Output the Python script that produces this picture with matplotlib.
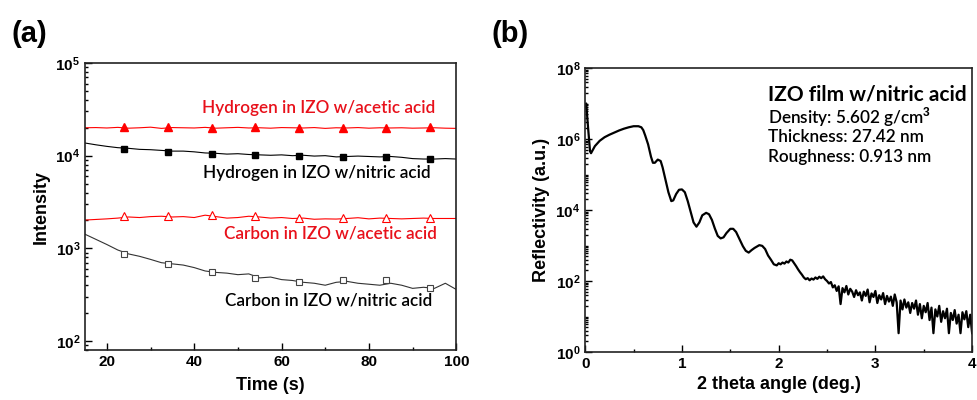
import numpy as np
import matplotlib.pyplot as plt
from matplotlib.ticker import MultipleLocator, LogLocator, NullFormatter, FixedLocator

plt.rcParams["font.family"] = ["Liberation Sans", "DejaVu Sans"]
plt.rcParams["mathtext.fontset"] = "custom"
plt.rcParams["mathtext.rm"] = "Liberation Sans:bold"
plt.rcParams["mathtext.bf"] = "Liberation Sans:bold"

# (a) depth profile data
time = [15, 17.5, 20, 22.5, 25, 27.5, 30, 32.5, 35, 37.5, 40, 42.5, 45, 47.5, 50,
        52.5, 55, 57.5, 60, 62.5, 65, 67.5, 70, 72.5, 75, 77.5, 80, 82.5, 85,
        87.5, 90, 92.5, 95, 97.5, 100]
h_acetic = [2.00, 2.01, 1.99, 2.02, 1.98, 2.00, 2.03, 1.97, 2.01, 2.00, 1.99, 2.02,
            1.98, 2.00, 2.02, 1.99, 2.00, 1.98, 2.01, 2.00, 1.99, 2.01, 1.97, 2.00,
            1.99, 2.01, 1.98, 2.00, 1.99, 2.00, 1.98, 1.99, 2.00, 1.98, 1.97]
h_nitric = [1.37, 1.31, 1.26, 1.22, 1.20, 1.17, 1.16, 1.14, 1.12, 1.12, 1.10, 1.07,
            1.06, 1.04, 1.05, 1.03, 1.02, 1.01, 1.02, 1.00, 1.01, 0.99, 1.00, 0.97,
            0.98, 0.99, 0.98, 0.97, 0.98, 0.96, 0.93, 0.92, 0.92, 0.93, 0.92]
c_acetic = [2.02, 2.05, 2.08, 2.12, 2.18, 2.15, 2.20, 2.22, 2.18, 2.20, 2.15, 2.28,
            2.20, 2.12, 2.15, 2.22, 2.18, 2.12, 2.15, 2.10, 2.12, 2.06, 2.08, 2.07,
            2.10, 2.14, 2.08, 2.12, 2.10, 2.08, 2.10, 2.12, 2.10, 2.10, 2.10]
c_nitric = [1420, 1250, 1100, 960, 870, 820, 760, 700, 680, 660, 620, 570, 550, 540,
            520, 530, 480, 490, 460, 450, 430, 420, 400, 430, 440, 420, 410, 400,
            420, 400, 370, 380, 370, 420, 360]

mark_time = [24, 34, 44, 54, 64, 74, 84, 94]
mark_h_acetic = [2.02, 2.02, 1.97, 2.02, 1.98, 1.97, 1.98, 2.02]
mark_h_nitric = [1.18, 1.10, 1.05, 1.01, 1.00, 0.97, 0.97, 0.91]
mark_c_acetic = [2.25, 2.22, 2.28, 2.22, 2.12, 2.10, 2.15, 2.10]
mark_c_nitric = [870, 680, 550, 480, 430, 450, 456, 374]

# (b) XRR data, log10 of reflectivity
angle_low = [0.00, 0.01, 0.03, 0.05, 0.06, 0.08, 0.10, 0.15, 0.20, 0.25, 0.30, 0.35,
             0.40, 0.45, 0.50, 0.55, 0.58, 0.60, 0.62, 0.65, 0.68, 0.70, 0.72, 0.75,
             0.78, 0.80, 0.83, 0.86, 0.89, 0.91, 0.94, 0.97, 1.00, 1.03, 1.06, 1.09,
             1.12, 1.15, 1.18, 1.21, 1.25, 1.28, 1.31, 1.34, 1.37, 1.40, 1.43, 1.46,
             1.50, 1.53, 1.56, 1.60, 1.63, 1.66, 1.69, 1.72, 1.75, 1.80, 1.83, 1.86,
             1.89, 1.92, 1.95, 1.98]
logr_low = [6.90, 7.00, 6.30, 5.65, 5.60, 5.70, 5.80, 5.95, 6.05, 6.12, 6.18, 6.24,
            6.29, 6.33, 6.36, 6.36, 6.33, 6.25, 6.10, 5.85, 5.50, 5.33, 5.33, 5.42,
            5.38, 5.20, 4.85, 4.50, 4.25, 4.27, 4.45, 4.57, 4.58, 4.50, 4.25, 3.95,
            3.65, 3.53, 3.65, 3.85, 3.92, 3.88, 3.72, 3.48, 3.27, 3.20, 3.23, 3.35,
            3.47, 3.47, 3.38, 3.15, 2.98, 2.85, 2.80, 2.87, 2.93, 3.01, 2.99, 2.90,
            2.72, 2.60, 2.47, 2.44]
logr_tail = [2.50, 2.47, 2.52, 2.49, 2.55, 2.52, 2.60, 2.58, 2.50, 2.42, 2.33, 2.25,
             2.18, 2.10, 2.05, 2.08, 2.02, 2.07, 2.04, 2.10, 2.06, 2.12, 2.08, 2.13,
             2.05, 2.00, 1.93, 1.97, 1.82, 1.88, 1.72, 1.85, 1.35, 1.80, 1.68, 1.86,
             1.62, 1.78, 1.70, 1.55, 1.74, 1.60, 1.68, 1.45, 1.70, 1.58, 1.76, 1.40,
             1.65, 1.55, 1.72, 1.38, 1.60, 1.48, 1.66, 1.35, 1.58, 1.42, 1.56, 1.30,
             1.62, 1.40, 0.53, 1.45, 1.20, 1.48, 1.25, 1.40, 1.10, 1.38, 1.22, 1.45,
             1.05, 1.35, 0.95, 1.30, 1.12, 1.38, 0.90, 1.25, 0.53, 1.20, 1.00, 1.30,
             0.85, 1.15, 0.95, 1.22, 0.53, 1.10, 0.90, 1.18, 0.80, 1.05, 0.53, 1.12,
             0.92, 1.15, 0.70, 1.05, 0.53]
angle_tail = np.round(np.arange(2.0, 4.001, 0.02), 2)

angle = np.concatenate([angle_low, angle_tail])
refl = 10 ** np.concatenate([logr_low, logr_tail])

fig = plt.figure(figsize=(9.77, 4.0), dpi=100)
ax1 = fig.add_axes([0.087, 0.125, 0.380, 0.7175])
ax2 = fig.add_axes([0.599, 0.12, 0.396, 0.71])

t = np.array(time)
ax1.plot(t, np.array(h_acetic) * 1e4, color="red", lw=0.8)
ax1.plot(t, np.array(h_nitric) * 1e4, color="black", lw=0.8)
ax1.plot(t, np.array(c_acetic) * 1e3, color="red", lw=0.8)
ax1.plot(t, c_nitric, color="#333333", lw=0.8)
ax1.plot(mark_time, np.array(mark_h_acetic) * 1e4, "^", color="red", ms=5.5, ls="none")
ax1.plot(mark_time, np.array(mark_h_nitric) * 1e4, "s", color="black", ms=4.5, ls="none")
ax1.plot(mark_time, np.array(mark_c_acetic) * 1e3, "^", mfc="white", mec="red",
         ms=5.5, mew=0.8, ls="none")
ax1.plot(mark_time, mark_c_nitric, "s", mfc="white", mec="#444444", ms=4.5, mew=0.8,
         ls="none")

ax1.set_yscale("log")
ax1.set_xlim(15, 100)
ax1.set_ylim(80, 1e5)
ax1.xaxis.set_major_locator(MultipleLocator(20))
ax1.xaxis.set_minor_locator(MultipleLocator(10))
ax1.set_xlabel("Time (s)", fontsize=13, fontweight="bold", labelpad=6)
ax1.set_ylabel("Intensity", fontsize=13, fontweight="bold", labelpad=4)

ann_font = ["Lato", "Noto Sans", "DejaVu Sans"]
lab = dict(fontsize=12.3, family=ann_font, fontweight="semibold", ha="right", va="center")
ax1.text(95.3, 3.27e4, "Hydrogen in IZO w/acetic acid", color="#e8101a", **lab)
ax1.text(94.1, 6.5e3, "Hydrogen in IZO w/nitric acid", color="black", **lab)
ax1.text(95.5, 1.43e3, "Carbon in IZO w/acetic acid", color="#e8101a", **lab)
ax1.text(94.4, 277, "Carbon in IZO w/nitric acid", color="black", **lab)

ax2.plot(angle, refl, color="black", lw=1.6)
ax2.set_yscale("log")
ax2.set_xlim(0, 4)
ax2.set_ylim(1, 1e8)
ax2.xaxis.set_major_locator(MultipleLocator(1))
ax2.xaxis.set_minor_locator(MultipleLocator(0.5))
ax2.yaxis.set_major_locator(FixedLocator([1e0, 1e2, 1e4, 1e6, 1e8]))
ax2.set_xlabel("2 theta angle (deg.)", fontsize=13, fontweight="bold", labelpad=4)
ax2.set_ylabel("Reflectivity (a.u.)", fontsize=13, fontweight="bold", labelpad=4)

info = dict(family=ann_font, transform=ax2.transAxes, ha="left", va="center")
ax2.text(0.473, 0.908, "IZO film w/nitric acid", fontsize=15, fontweight="bold", **info)
ax2.text(0.473, 0.827, "Density: 5.602 g/cm$^{3}$", fontsize=12.3,
         fontweight="semibold", **info)
ax2.text(0.473, 0.757, "Thickness: 27.42 nm", fontsize=12.3, fontweight="semibold", **info)
ax2.text(0.473, 0.687, "Roughness: 0.913 nm", fontsize=12.3, fontweight="semibold", **info)

ax1.yaxis.set_minor_locator(LogLocator(base=10, subs=np.arange(2, 10), numticks=20))
ax2.yaxis.set_minor_locator(LogLocator(base=10, subs=np.arange(1, 10), numticks=20))
for ax in (ax1, ax2):
    ax.yaxis.set_minor_formatter(NullFormatter())
    ax.tick_params(which="both", direction="in", top=False, right=False,
                   width=1.0, labelsize=11)
    ax.tick_params(which="major", length=5)
    ax.tick_params(which="minor", length=2.5)
    for lbl in ax.get_xticklabels() + ax.get_yticklabels():
        lbl.set_fontweight("bold")
    for s in ax.spines.values():
        s.set_linewidth(1.2)
        s.set_color("#222222")

fig.text(0.012, 0.915, "(a)", fontsize=21, fontweight="bold", va="center")
fig.text(0.503, 0.915, "(b)", fontsize=21, fontweight="bold", va="center")

fig.savefig("out.png", dpi=100)
